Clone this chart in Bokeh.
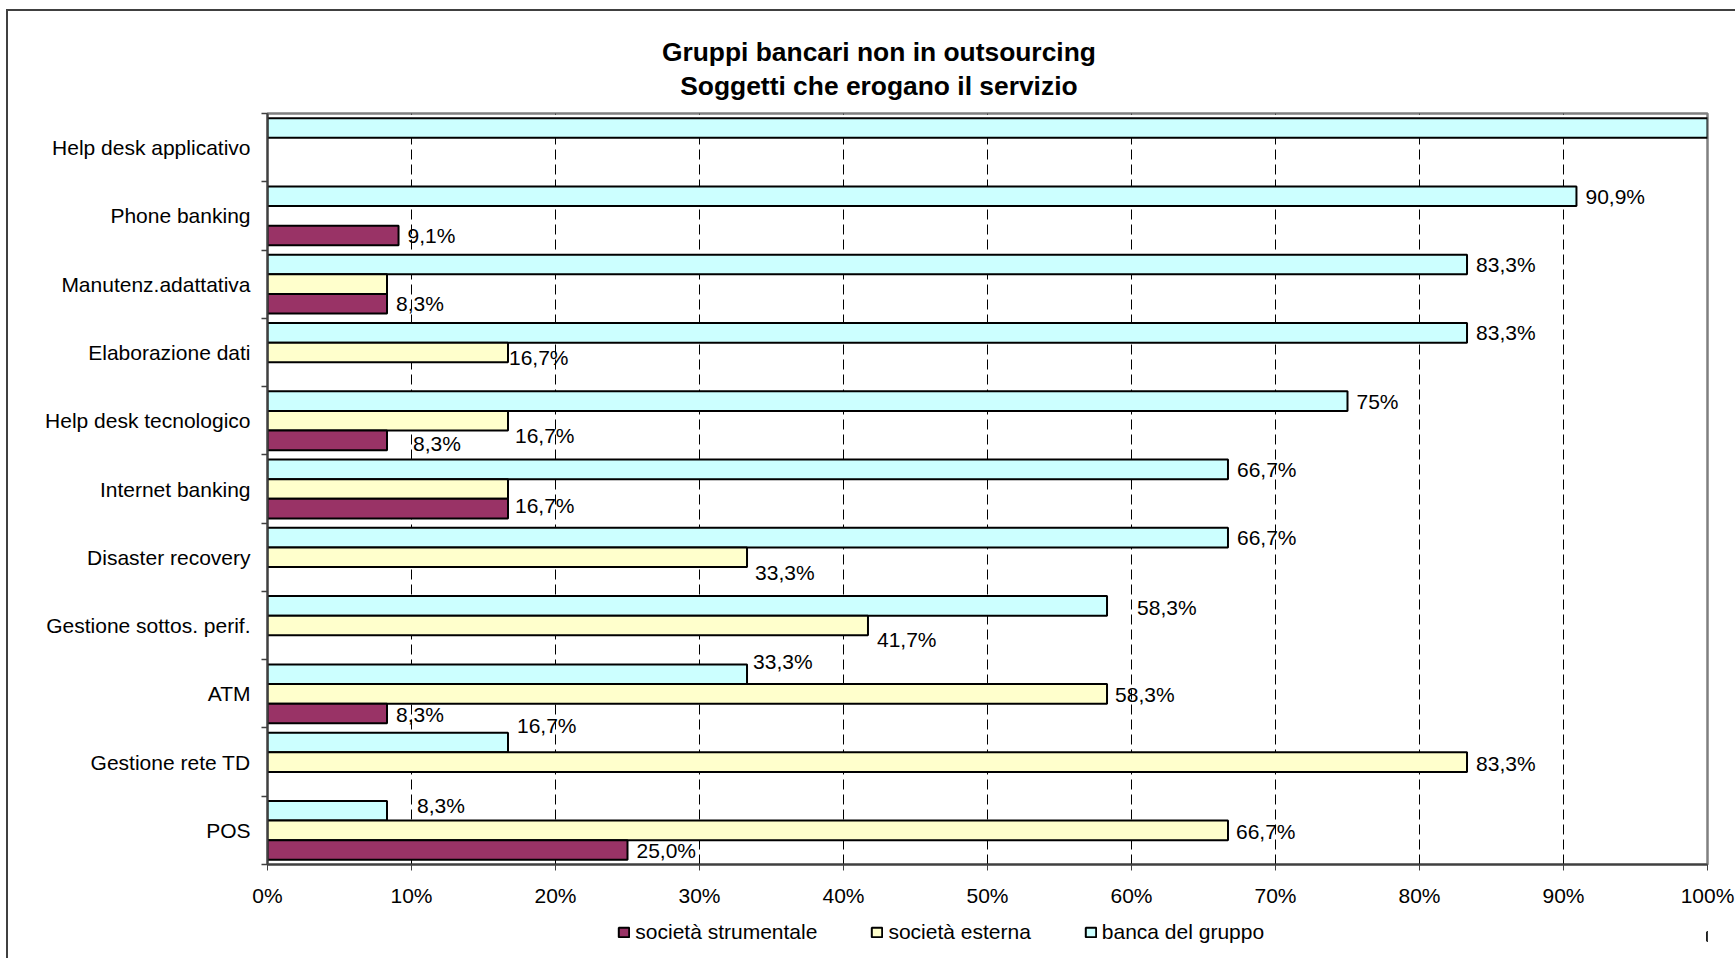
from bokeh.plotting import figure
from bokeh.layouts import column
from bokeh.models import (Range1d, FixedTicker, Legend, LegendItem, ColumnDataSource)
from bokeh.embed import file_html
from bokeh.resources import INLINE
from bokeh.core.properties import value

# ---------------- data ----------------
categories = ["Help desk applicativo", "Phone banking", "Manutenz.adattativa",
              "Elaborazione dati", "Help desk tecnologico", "Internet banking",
              "Disaster recovery", "Gestione sottos. perif.", "ATM",
              "Gestione rete TD", "POS"]
banca_del_gruppo = [100.0, 90.9, 83.3, 83.3, 75.0, 66.7, 66.7, 58.3, 33.3, 16.7, 8.3]
societa_esterna = [0.0, 0.0, 8.3, 16.7, 16.7, 16.7, 33.3, 41.7, 58.3, 83.3, 66.7]
societa_strumentale = [0.0, 9.1, 8.3, 0.0, 8.3, 16.7, 0.0, 0.0, 8.3, 0.0, 25.0]

banca_labels = [None, "90,9%", "83,3%", "83,3%", "75%", "66,7%", "66,7%", "58,3%", "33,3%", "16,7%", "8,3%"]
esterna_labels = [None, None, None, "16,7%", "16,7%", None, "33,3%", "41,7%", "58,3%", "83,3%", "66,7%"]
strumentale_labels = [None, "9,1%", "8,3%", None, "8,3%", "16,7%", None, None, "8,3%", None, "25,0%"]

series_names = ["società strumentale", "società esterna", "banca del gruppo"]
x_ticks = [0, 10, 20, 30, 40, 50, 60, 70, 80, 90, 100]
x_tick_labels = ["0%", "10%", "20%", "30%", "40%", "50%", "60%", "70%", "80%", "90%", "100%"]
title_lines = ["Gruppi bancari non in outsourcing", "Soggetti che erogano il servizio"]

# ---------------- styles (label nudges in screen px, +dy = down) ----------------
banca_dx = [9, 9, 9, 9, 9, 9, 9, 30, 6, 9, 30]
banca_dy = [0, 0, 0, 0, 0, 0, 0, 2, -13, -17, -5]
esterna_dx = [9, 9, 9, 1, 7, 9, 8, 9, 8, 9, 8]
esterna_dy = [0, 0, 0, 5, 15, 0, 15, 14, 1, 1, 1]
strum_dx = [9, 9, 9, 9, 26, 7, 9, 9, 9, 9, 9]
strum_dy = [0, 0, 0, 0, 3, -3, 0, 0, 1, 0, 1]

FONT = "Liberation Sans"
COL_BANCA = "#CCFFFF"
COL_EST = "#FFFFCC"
COL_STR = "#993366"
BAR_H = 0.2875
LEFT_B = 267      # space left of the plot area
RIGHT_B = 28      # space right of the plot area
FRAME_W = 1440
TITLE_H = 100
LEGEND_H = 44

BORDER_TOP_LEFT = ("linear-gradient(#404040, #404040) 6px 9px / 2px 100% no-repeat, "
                   "linear-gradient(#404040, #404040) 6px 9px / 100% 2px no-repeat, white")
BORDER_LEFT = "linear-gradient(#404040, #404040) 6px 0px / 2px 100% no-repeat, white"

# ---------------- title strip (x in page pixels) ----------------
t = figure(frame_width=FRAME_W, frame_height=TITLE_H,
           x_range=Range1d(LEFT_B, LEFT_B + FRAME_W), y_range=Range1d(TITLE_H, 0),
           x_axis_type=None, y_axis_type=None, output_backend="svg",
           toolbar_location=None, min_border_left=LEFT_B, min_border_right=RIGHT_B,
           min_border_top=0, min_border_bottom=0, outline_line_color=None,
           background_fill_alpha=0, border_fill_alpha=0)
t.styles = {"background": BORDER_TOP_LEFT}
t.text(x=[878.4, 878.4], y=[51.7, 85.0], text=title_lines,
       text_font=value(FONT), text_font_size="26.4px", text_font_style="bold",
       text_color="black", text_align="center", text_baseline="middle")

# ---------------- main chart ----------------
n = len(categories)
centers = [n - 0.5 - i for i in range(n)]

p = figure(frame_width=FRAME_W, frame_height=751,
           x_range=Range1d(0, 100), y_range=Range1d(0, n),
           output_backend="svg", toolbar_location=None,
           min_border_left=LEFT_B, min_border_right=RIGHT_B,
           min_border_top=13, min_border_bottom=50,
           background_fill_color="white", border_fill_alpha=0)
p.styles = {"background": BORDER_LEFT}

p.outline_line_color = "#808080"
p.outline_line_width = 2.5

p.ygrid.visible = False
p.xgrid.ticker = FixedTicker(ticks=x_ticks[1:-1])
p.xgrid.grid_line_color = "black"
p.xgrid.grid_line_width = 1
p.xgrid.grid_line_dash = "10 5"

p.xaxis.ticker = FixedTicker(ticks=x_ticks)
p.xaxis.major_label_overrides = {tk: lb for tk, lb in zip(x_ticks, x_tick_labels)}
p.xaxis.major_tick_in = 0
p.xaxis.major_tick_out = 6
p.xaxis.minor_tick_line_color = None
p.xaxis.major_tick_line_color = "#404040"
p.xaxis.axis_line_color = "#404040"
p.xaxis.axis_line_width = 2
p.xaxis.major_label_text_font = FONT
p.xaxis.major_label_text_font_size = "21px"
p.xaxis.major_label_text_color = "black"
p.xaxis.major_label_standoff = 13

p.yaxis.ticker = FixedTicker(ticks=centers, minor_ticks=list(range(n + 1)))
p.yaxis.major_label_overrides = {c: name for c, name in zip(centers, categories)}
p.yaxis.major_tick_line_color = None
p.yaxis.major_tick_in = 0
p.yaxis.major_tick_out = 0
p.yaxis.minor_tick_in = 0
p.yaxis.minor_tick_out = 6
p.yaxis.minor_tick_line_color = "#404040"
p.yaxis.minor_tick_line_width = 1.5
p.yaxis.axis_line_color = "#404040"
p.yaxis.axis_line_width = 2
p.yaxis.major_label_text_font = FONT
p.yaxis.major_label_text_font_size = "21px"
p.yaxis.major_label_text_color = "black"
p.yaxis.major_label_standoff = 11


def add_series(values, labels, dodge, color, dxs, dys):
    ys = [c + dodge for c in centers]
    keep = [i for i, v in enumerate(values) if v > 0]
    src = ColumnDataSource(dict(y=[ys[i] for i in keep], right=[values[i] for i in keep]))
    p.hbar(y="y", left=0, right="right", height=BAR_H, source=src,
           fill_color=color, line_color="black", line_width=2)
    lk = [i for i, tx in enumerate(labels) if tx]
    lsrc = ColumnDataSource(dict(x=[values[i] for i in lk], y=[ys[i] for i in lk],
                                 text=[labels[i] for i in lk],
                                 dx=[dxs[i] for i in lk], dy=[dys[i] for i in lk]))
    p.text(x="x", y="y", text="text", x_offset="dx", y_offset="dy", source=lsrc,
           text_font=value(FONT), text_font_size="21px", text_color="black",
           text_align="left", text_baseline="middle")


add_series(banca_del_gruppo, banca_labels, BAR_H, COL_BANCA, banca_dx, banca_dy)
add_series(societa_esterna, esterna_labels, 0.0, COL_EST, esterna_dx, esterna_dy)
add_series(societa_strumentale, strumentale_labels, -BAR_H, COL_STR, strum_dx, strum_dy)

# ---------------- legend strip ----------------
lg = figure(frame_width=FRAME_W, frame_height=LEGEND_H,
            x_range=Range1d(0, 1), y_range=Range1d(0, 1),
            x_axis_type=None, y_axis_type=None, output_backend="svg",
            toolbar_location=None, min_border_left=LEFT_B, min_border_right=RIGHT_B,
            min_border_top=0, min_border_bottom=0, outline_line_color=None,
            background_fill_alpha=0, border_fill_alpha=0)
lg.styles = {"background": BORDER_LEFT}
# key swatches: one bar each, placed beyond the right edge of the strip's frame
key_renderers = [lg.hbar(y=[0.5], left=[5], right=[6], height=0.2, fill_color=c,
                         line_color="black", line_width=2)
                 for c in (COL_STR, COL_EST, COL_BANCA)]
legend = Legend(items=[LegendItem(label=nm, renderers=[r])
                       for nm, r in zip(series_names, key_renderers)],
                orientation="horizontal", location=(350.3, 14.3),
                glyph_width=13, glyph_height=12, label_standoff=5, spacing=53,
                label_height=24, padding=0, margin=0, border_line_color=None,
                background_fill_alpha=0, label_text_font=FONT,
                label_text_font_size="21px", label_text_color="black")
lg.add_layout(legend, "center")

layout = column(t, p, lg, spacing=0)
open("out.html", "w").write(file_html(layout, INLINE))
